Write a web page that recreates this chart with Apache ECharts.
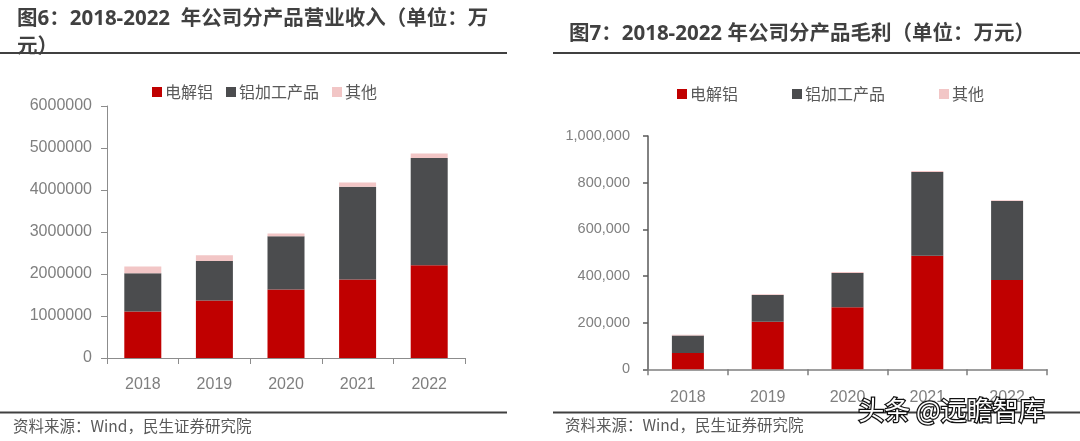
<!DOCTYPE html>
<html>
<head>
<meta charset="utf-8">
<script src="https://cdn.jsdelivr.net/npm/echarts@6/dist/echarts.min.js"></script>
<style>
html,body{margin:0;padding:0;background:#fff;}
#c{width:1080px;height:441px;}
</style>
</head>
<body>
<div id="c"></div>
<script>
const categories = ['2018', '2019', '2020', '2021', '2022'];
const seriesNames = ['电解铝', '铝加工产品', '其他'];
// 图6 营业收入（万元）
const revElectrolytic = [1110000, 1370000, 1630000, 1870000, 2210000];
const revProcessed = [910000, 940000, 1270000, 2210000, 2550000];
const revOther = [160000, 135000, 65000, 100000, 110000];
// 图7 毛利（万元）
const gpElectrolytic = [70000, 204000, 266000, 487000, 383000];
const gpProcessed = [75000, 114000, 147000, 359000, 338000];
const gpOther = [3000, 4000, 4000, 4000, 4000];

const colors = ['#C00000', '#4B4C4E', '#F2C6C6'];
const numFont = '"Liberation Sans", sans-serif';
const cjkFont = '"Noto Sans CJK SC", sans-serif';
const titleFont = '"Open Sans", "Noto Sans CJK SC", sans-serif';

const chart = echarts.init(document.getElementById('c'), null, {renderer: 'canvas'});

function fmtComma(v) { return v.toLocaleString('en-US'); }
function fmtPlain(v) { return String(v); }

function makeSeries(data, idx, xi, bw) {
  return {
    name: seriesNames[idx], type: 'bar', stack: 's' + xi,
    xAxisIndex: xi, yAxisIndex: xi, barWidth: bw,
    itemStyle: {color: colors[idx]}, data: data
  };
}

const option = {
  animation: false,
  backgroundColor: '#fff',
  title: [
    {text: '图6：2018-2022  年公司分产品营业收入（单位：万\n元）', left: 12, top: 0,
     textStyle: {fontFamily: titleFont, fontSize: 20.5, fontWeight: 'bold', color: '#404040', lineHeight: 28}},
    {text: '图7：2018-2022 年公司分产品毛利（单位：万元）', left: 564, top: 15,
     textStyle: {fontFamily: titleFont, fontSize: 20.5, fontWeight: 'bold', color: '#404040', lineHeight: 28}}
  ],
  legend: [
    {data: seriesNames, left: 147, top: 79, itemWidth: 10, itemHeight: 10, itemGap: 13, icon: 'rect',
     textStyle: {fontFamily: cjkFont, fontSize: 16, color: '#595959', padding: [0, 0, 0, -2]}},
    {data: seriesNames, left: 672, top: 81, itemWidth: 10, itemHeight: 10, itemGap: 54, icon: 'rect',
     textStyle: {fontFamily: cjkFont, fontSize: 16, color: '#595959', padding: [0, 0, 0, -2]}}
  ],
  grid: [
    {left: 107, width: 358, top: 106, height: 252},
    {left: 648, width: 399, top: 136, height: 233.3}
  ],
  xAxis: [
    {type: 'category', gridIndex: 0, data: categories,
     axisLine: {lineStyle: {color: '#8C8C8C', width: 1}},
     axisTick: {show: true, length: 6, lineStyle: {color: '#8C8C8C'}},
     axisLabel: {fontFamily: numFont, fontSize: 16, color: '#7F7F7F', margin: 19}},
    {type: 'category', gridIndex: 1, data: categories,
     axisLine: {lineStyle: {color: '#7F7F7F', width: 1.5}},
     axisTick: {show: true, length: 6, lineStyle: {color: '#7F7F7F', width: 1.5}},
     axisLabel: {fontFamily: numFont, fontSize: 16, color: '#7F7F7F', margin: 20}}
  ],
  yAxis: [
    {type: 'value', gridIndex: 0, min: 0, max: 6000000, interval: 1000000,
     axisLine: {show: true, lineStyle: {color: '#8C8C8C', width: 1}},
     axisTick: {show: true, length: 6, lineStyle: {color: '#8C8C8C'}},
     splitLine: {show: false},
     axisLabel: {fontFamily: numFont, fontSize: 16, color: '#7F7F7F', margin: 15, formatter: fmtPlain}},
    {type: 'value', gridIndex: 1, min: 0, max: 1000000, interval: 200000,
     axisLine: {show: true, lineStyle: {color: '#595959', width: 1.5}},
     axisTick: {show: true, length: 5, lineStyle: {color: '#595959', width: 1.5}},
     splitLine: {show: false},
     axisLabel: {fontFamily: numFont, fontSize: 14.5, color: '#7F7F7F', margin: 18, formatter: fmtComma}}
  ],
  series: [
    makeSeries(revElectrolytic, 0, 0, 37),
    makeSeries(revProcessed, 1, 0, 37),
    makeSeries(revOther, 2, 0, 37),
    makeSeries(gpElectrolytic, 0, 1, 32),
    makeSeries(gpProcessed, 1, 1, 32),
    makeSeries(gpOther, 2, 1, 32)
  ],
  graphic: [
    {type: 'line', shape: {x1: 0, y1: 53, x2: 507, y2: 53}, style: {stroke: '#404040', lineWidth: 2}},
    {type: 'line', shape: {x1: 553, y1: 53, x2: 1080, y2: 53}, style: {stroke: '#404040', lineWidth: 2}},
    {type: 'line', shape: {x1: 0, y1: 412.5, x2: 507, y2: 412.5}, style: {stroke: '#404040', lineWidth: 2}},
    {type: 'line', shape: {x1: 553, y1: 412.5, x2: 1080, y2: 412.5}, style: {stroke: '#404040', lineWidth: 2}},
    {type: 'text', left: 13, top: 418, style: {text: '资料来源：Wind，民生证券研究院', font: '15.5px "Noto Sans CJK SC", "Open Sans", sans-serif', fill: '#595959'}},
    {type: 'text', left: 565, top: 417, style: {text: '资料来源：Wind，民生证券研究院', font: '15.5px "Noto Sans CJK SC", "Open Sans", sans-serif', fill: '#595959'}},
    {type: 'text', left: 857, top: 396, z: 100, style: {text: '头条 @远瞻智库', font: '26px "Noto Sans CJK SC", sans-serif', fill: '#ffffff', stroke: '#111111', lineWidth: 2.5}}
  ]
};
chart.setOption(option);
</script>
</body>
</html>
